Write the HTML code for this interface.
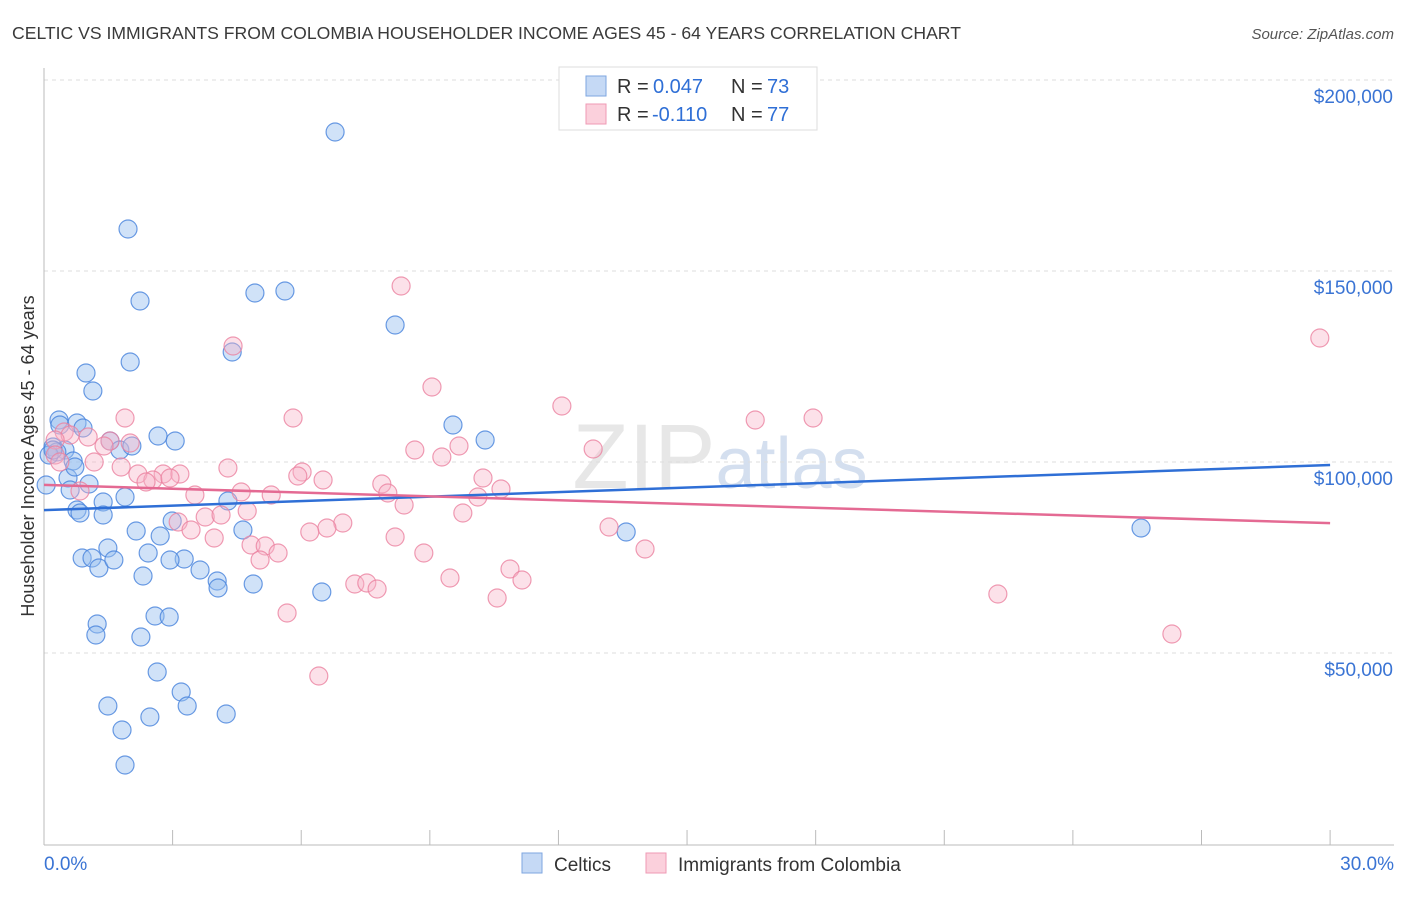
<!DOCTYPE html>
<html><head><meta charset="utf-8"><style>
body{margin:0;background:#fff;font-family:"Liberation Sans",sans-serif;}
svg text{font-family:"Liberation Sans",sans-serif;}
</style></head><body>
<svg id="chart" width="1406" height="892" xmlns="http://www.w3.org/2000/svg">
<text x="12" y="39" font-size="17.6" fill="#3a3a3a">CELTIC VS IMMIGRANTS FROM COLOMBIA HOUSEHOLDER INCOME AGES 45 - 64 YEARS CORRELATION CHART</text>
<text x="1394" y="39" font-size="15" fill="#555" text-anchor="end" font-style="italic">Source: ZipAtlas.com</text>
<text x="720" y="488" font-size="92" fill="#d8d8d8" text-anchor="middle" font-family="Liberation Serif" opacity="0.6">ZIP<tspan fill="#b9cbe6" font-family="Liberation Sans" font-size="72">atlas</tspan></text>
<g id="grid"></g>
<g id="axes"></g>
<g id="blue"></g>
<g id="pink"></g>
<g id="lines"></g>
<text transform="translate(34,456) rotate(-90)" font-size="18" fill="#333" text-anchor="middle">Householder Income Ages 45 - 64 years</text>
<g>
<rect x="559" y="67" width="258" height="63" fill="#fff" stroke="#ddd"/>
<rect x="586" y="76" width="20" height="20" fill="#c5d9f5" stroke="#7ea6e0"/>
<rect x="586" y="104" width="20" height="20" fill="#fbd0dc" stroke="#ef9ab4"/>
<text x="617" y="93" font-size="20" fill="#333">R =</text>
<text x="653" y="93" font-size="20" fill="#2f6fd6">0.047</text>
<text x="731" y="93" font-size="20" fill="#333">N =</text>
<text x="767" y="93" font-size="20" fill="#2f6fd6">73</text>
<text x="617" y="121" font-size="20" fill="#333">R =</text>
<text x="652" y="121" font-size="20" fill="#2f6fd6">-0.110</text>
<text x="731" y="121" font-size="20" fill="#333">N =</text>
<text x="767" y="121" font-size="20" fill="#2f6fd6">77</text>
</g>
<g>
<rect x="522" y="853" width="20" height="20" fill="#c5d9f5" stroke="#7ea6e0"/>
<text x="554" y="871" font-size="19" fill="#333">Celtics</text>
<rect x="646" y="853" width="20" height="20" fill="#fbd0dc" stroke="#ef9ab4"/>
<text x="678" y="871" font-size="19" fill="#333">Immigrants from Colombia</text>
</g>
</svg>
<script>
const yTicks=[50000,100000,150000,200000];
const yTickLabels=["$50,000","$100,000","$150,000","$200,000"];
const xTickLabels=["0.0%","30.0%"];
const bluePx=[[335,132],[128,229],[140,301],[255,293],[285,291],[395,325],[232,352],[130,362],[86,373],[93,391],[59,420],[60,425],[77,423],[83,428],[453,425],[158,436],[175,441],[110,441],[485,440],[53,447],[65,450],[57,452],[120,450],[132,446],[73,461],[68,478],[89,484],[70,490],[125,497],[103,502],[228,501],[77,510],[80,513],[103,515],[172,521],[136,531],[243,530],[160,536],[626,532],[1141,528],[108,548],[148,553],[82,558],[92,558],[184,559],[170,560],[99,568],[114,560],[143,576],[200,570],[217,581],[218,588],[253,584],[322,592],[155,616],[169,617],[97,624],[96,635],[141,637],[157,672],[181,692],[108,706],[187,706],[150,717],[226,714],[122,730],[125,765],[49,455],[53,450],[75,467],[46,485]];
const pinkPx=[[401,286],[233,346],[1320,338],[432,387],[562,406],[125,418],[293,418],[755,420],[813,418],[64,432],[70,435],[88,437],[55,440],[110,441],[130,443],[104,446],[459,446],[593,449],[415,450],[442,457],[94,462],[121,467],[138,474],[163,474],[180,474],[153,480],[146,482],[170,478],[228,468],[302,472],[298,476],[483,478],[323,480],[382,484],[388,493],[501,489],[478,497],[241,492],[271,495],[195,495],[404,505],[463,513],[247,511],[178,522],[205,517],[221,515],[191,530],[214,538],[609,527],[343,523],[327,528],[310,532],[395,537],[251,545],[265,546],[278,553],[260,560],[645,549],[424,553],[510,569],[450,578],[522,580],[355,584],[367,583],[377,589],[497,598],[998,594],[287,613],[1172,634],[319,676],[80,491],[55,455],[60,462]];
const celticsX=bluePx.map(p=>+((p[0]-44)/42.87).toFixed(2));
const celticsY=bluePx.map(p=>Math.round((844-p[1])/191*50000));
const colombiaX=pinkPx.map(p=>+((p[0]-44)/42.87).toFixed(2));
const colombiaY=pinkPx.map(p=>Math.round((844-p[1])/191*50000));
const celticsTrend=[87400,99200];
const colombiaTrend=[94000,84000];
const X=v=>44+v*42.87, Y=v=>844-v/50000*191;
const NS="http://www.w3.org/2000/svg";
function mk(tag,attrs,parent){const e=document.createElementNS(NS,tag);for(const k in attrs)e.setAttribute(k,attrs[k]);parent.appendChild(e);return e;}
const grid=document.getElementById('grid'),axes=document.getElementById('axes');
yTicks.forEach((t,i)=>{
 const g=mk('line',{x1:44,x2:1394,y1:Y(t),y2:Y(t),stroke:'#ddd','stroke-dasharray':'4,4'},grid);
 
 
 const tx=mk('text',{x:1393,y:Y(t)+23,'font-size':19,fill:'#3a74d4','text-anchor':'end'},axes);
 tx.textContent=yTickLabels[i];
 
 
});
const ax=mk('line',{x1:44,x2:1394,y1:845,y2:845,stroke:'#bbb'},axes);


const ay=mk('line',{x1:44,x2:44,y1:68,y2:845,stroke:'#bbb'},axes);


for(let i=1;i<=10;i++){const t=mk('line',{x1:X(i*3),x2:X(i*3),y1:830,y2:845,stroke:'#bbb'},axes);
 
 }
const l0=mk('text',{x:44,y:870,'font-size':19,fill:'#3a74d4'},axes);l0.textContent=xTickLabels[0];


const l1=mk('text',{x:1394,y:870,'font-size':19,fill:'#3a74d4','text-anchor':'end'},axes);l1.textContent=xTickLabels[1];


function dots(xs,ys,g,fill,stroke,name){xs.forEach((x,i)=>{const c=mk('circle',{cx:X(x),cy:Y(ys[i]),r:9,fill:fill,stroke:stroke,'stroke-width':1.2},g);
 
 });}
dots(celticsX,celticsY,document.getElementById('blue'),'rgba(150,190,240,0.45)','rgba(70,130,220,0.8)','celtics-point');
dots(colombiaX,colombiaY,document.getElementById('pink'),'rgba(248,180,200,0.4)','rgba(235,130,160,0.8)','colombia-point');
const lg=document.getElementById('lines');
const tb=mk('line',{x1:X(0),x2:X(30),y1:Y(celticsTrend[0]),y2:Y(celticsTrend[1]),stroke:'#2f6fd6','stroke-width':2.5},lg);


const tp=mk('line',{x1:X(0),x2:X(30),y1:Y(colombiaTrend[0]),y2:Y(colombiaTrend[1]),stroke:'#e46a93','stroke-width':2.5},lg);


</script>
</body></html>
